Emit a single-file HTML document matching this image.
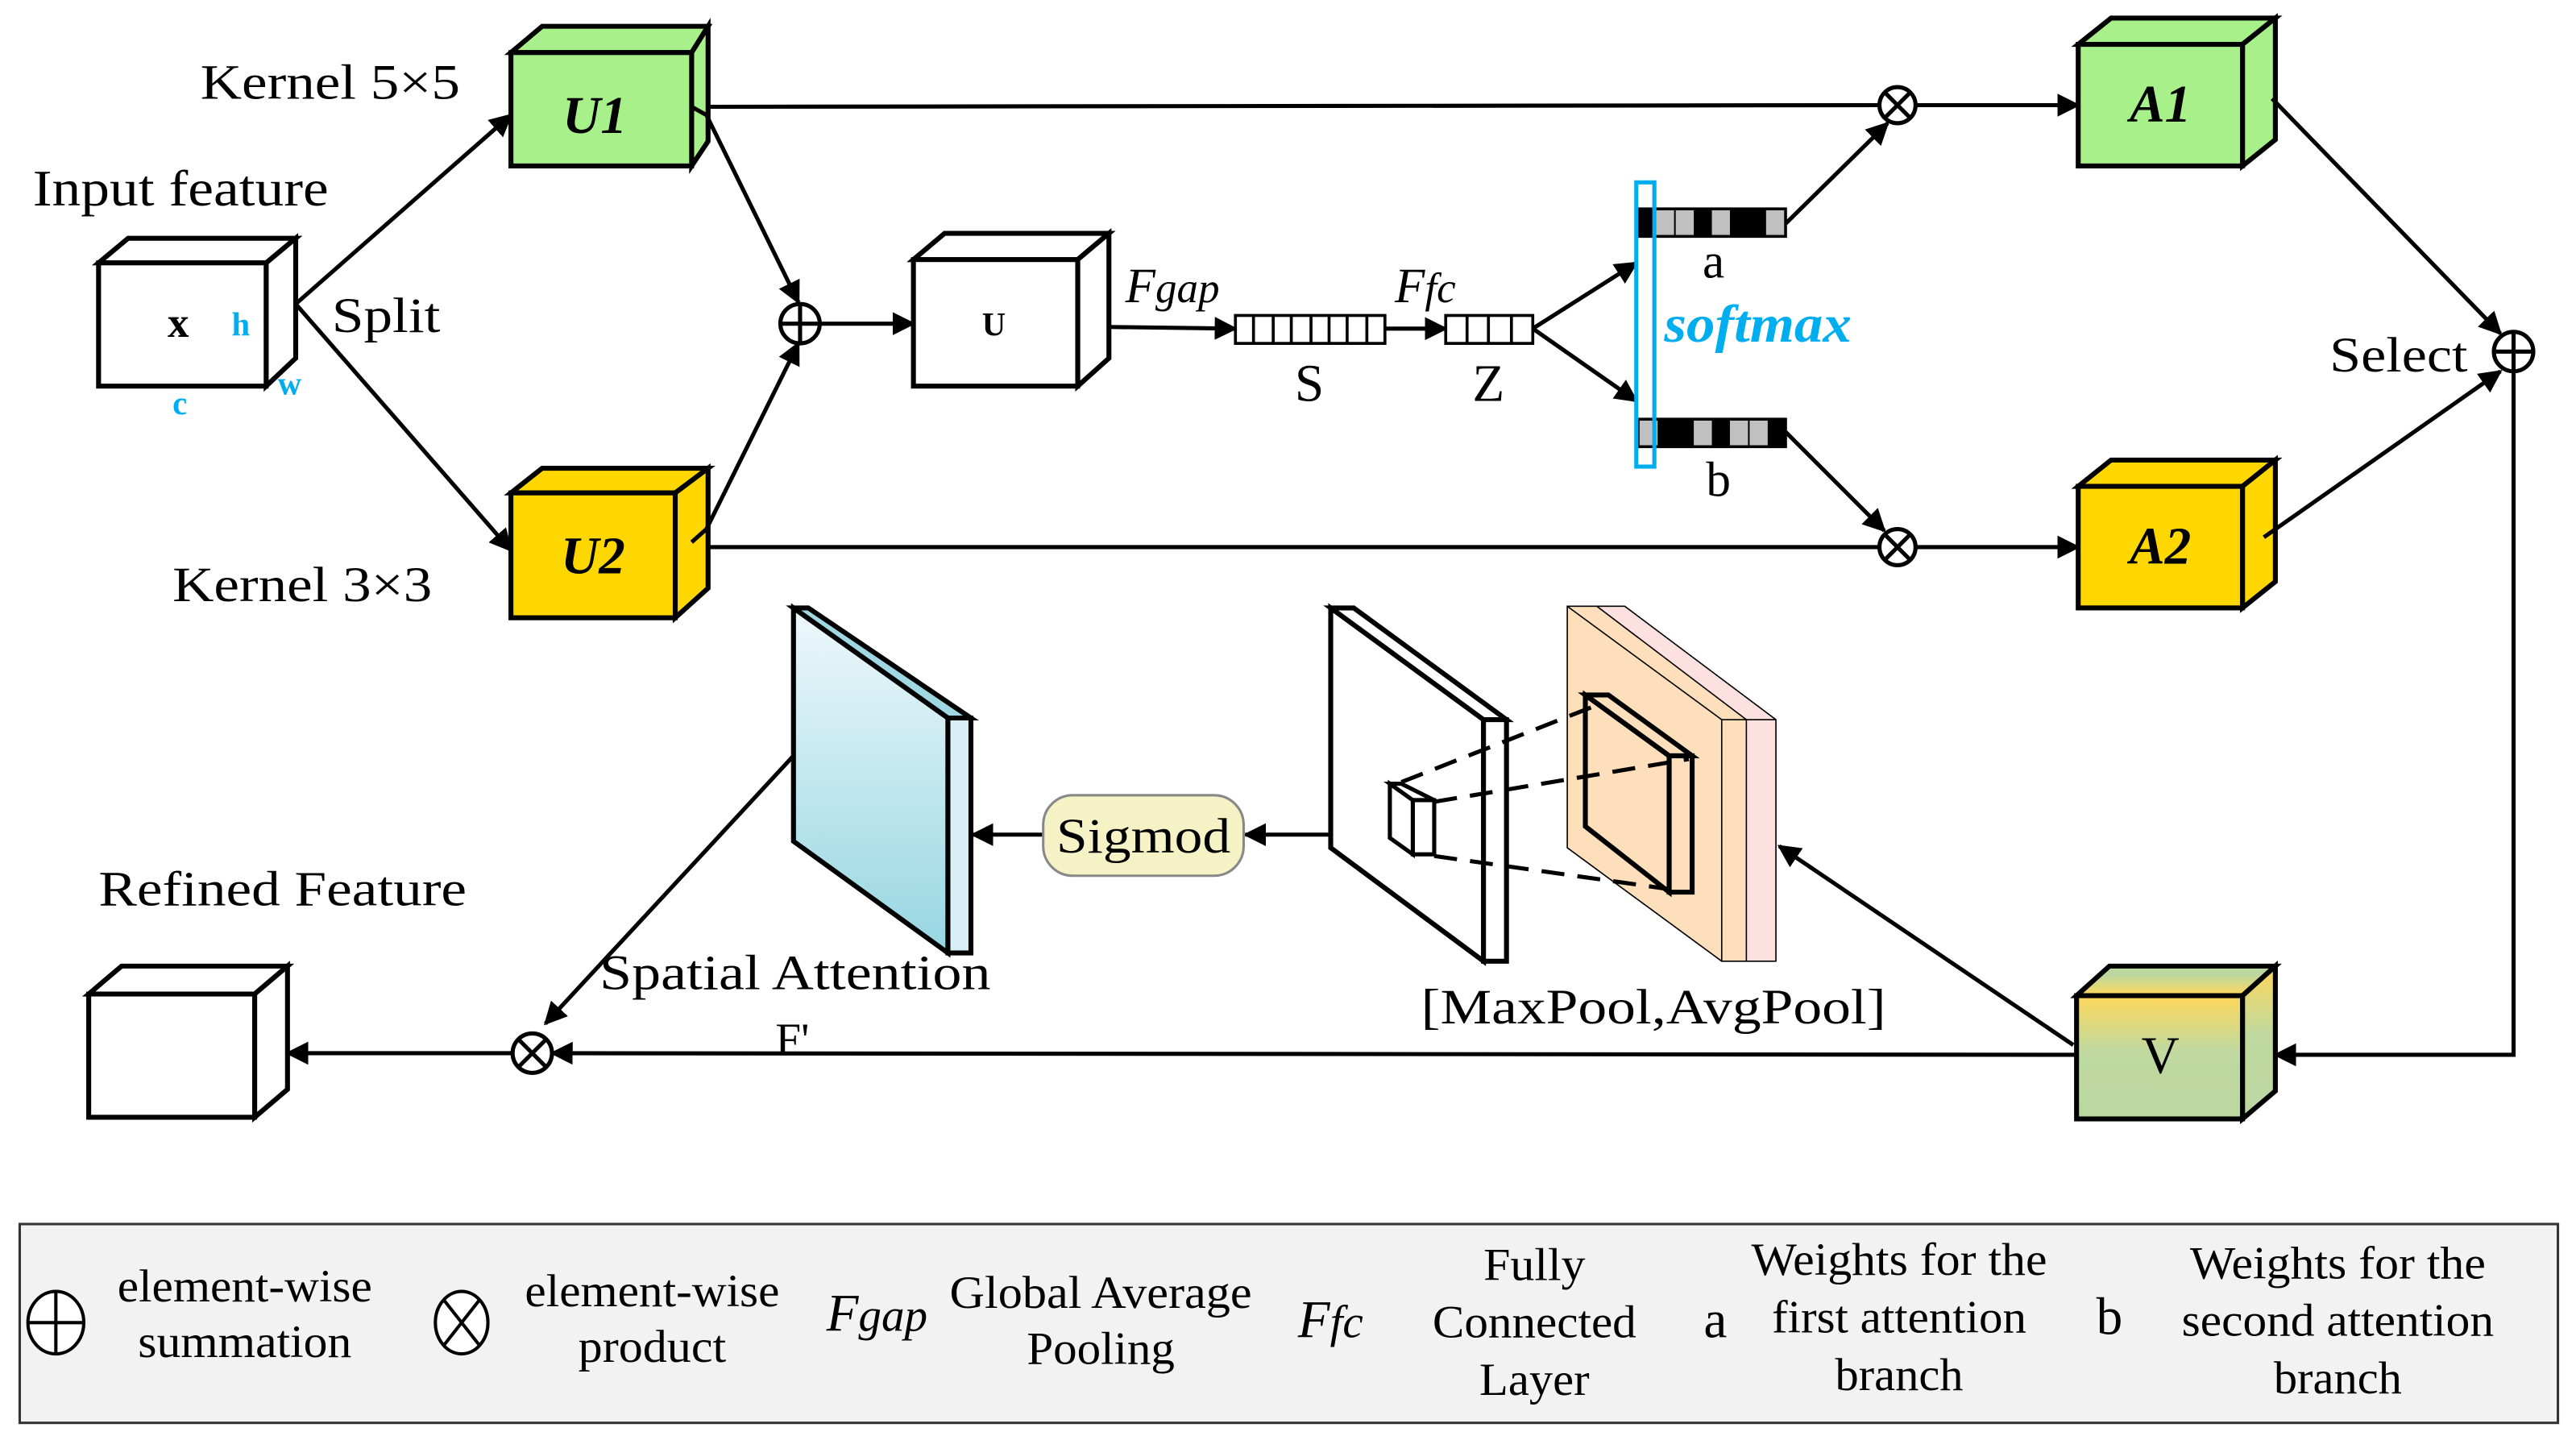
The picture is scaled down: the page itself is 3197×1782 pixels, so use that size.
<!DOCTYPE html>
<html><head><meta charset="utf-8"><style>
html,body{margin:0;padding:0;background:#fff;}
svg{display:block;}
text{font-family:"Liberation Serif","Times New Roman",Times,serif;fill:#000;}
</style></head><body>
<svg width="3197" height="1782" viewBox="0 0 1568 874" preserveAspectRatio="none" xmlns="http://www.w3.org/2000/svg">
<defs>
<marker id="ah2" viewBox="0 0 10 10" refX="9" refY="5" markerWidth="14" markerHeight="14" markerUnits="userSpaceOnUse" orient="auto"><path d="M0,0 L10,5 L0,10 z" fill="#000"/></marker>
<linearGradient id="vg" x1="0" y1="0" x2="0" y2="1"><stop offset="0" stop-color="#ffd85a"/><stop offset="0.45" stop-color="#bfd9a0"/><stop offset="1" stop-color="#bcd8a0"/></linearGradient>
<linearGradient id="vt" x1="0" y1="1" x2="0" y2="0"><stop offset="0" stop-color="#ffd85a"/><stop offset="0.7" stop-color="#bcd8a0"/></linearGradient>
<linearGradient id="bg" x1="0" y1="0" x2="0" y2="1"><stop offset="0" stop-color="#eef8fb"/><stop offset="1" stop-color="#96d6e2"/></linearGradient>
</defs>
<g stroke="#000" stroke-width="3" stroke-linejoin="miter" fill="none">
<path d="M60,160 L78,145 L180,145 L162,160 Z" fill="#fff"/>
<path d="M162,160 L180,145 L180,218 L162,235 Z" fill="#fff"/>
<rect x="60" y="160" width="102" height="75" fill="#fff"/>
<path d="M311,32 L330,16 L431,16 L421,32 Z" fill="#a8f08a"/>
<path d="M421,32 L431,16 L431,86 L421,101 Z" fill="#a8f08a"/>
<rect x="311" y="32" width="110" height="69" fill="#a8f08a"/>
<path d="M311,300 L330,285 L431,285 L411,300 Z" fill="#ffd700"/>
<path d="M411,300 L431,285 L431,358 L411,376 Z" fill="#ffd700"/>
<rect x="311" y="300" width="100" height="76" fill="#ffd700"/>
<path d="M556,158 L575,142 L675,142 L656,158 Z" fill="#fff"/>
<path d="M656,158 L675,142 L675,218 L656,235 Z" fill="#fff"/>
<rect x="556" y="158" width="100" height="77" fill="#fff"/>
<path d="M1265,27 L1285,11 L1385,11 L1365,27 Z" fill="#a8f08a"/>
<path d="M1365,27 L1385,11 L1385,85 L1365,101 Z" fill="#a8f08a"/>
<rect x="1265" y="27" width="100" height="74" fill="#a8f08a"/>
<path d="M1265,296 L1285,280 L1385,280 L1365,296 Z" fill="#ffd700"/>
<path d="M1365,296 L1385,280 L1385,354 L1365,370 Z" fill="#ffd700"/>
<rect x="1265" y="296" width="100" height="74" fill="#ffd700"/>
<path d="M1264,606 L1284,588 L1385,588 L1365,606 Z" fill="url(#vt)"/>
<path d="M1365,606 L1385,588 L1385,664 L1365,681 Z" fill="url(#vg)"/>
<rect x="1264" y="606" width="101" height="75" fill="url(#vg)"/>
<path d="M54,605 L74,588 L175,588 L155,605 Z" fill="#fff"/>
<path d="M155,605 L175,588 L175,663 L155,680 Z" fill="#fff"/>
<rect x="54" y="605" width="101" height="75" fill="#fff"/>
</g>
<g stroke="#000" stroke-width="2.5" fill="none">
<line x1="180" y1="185" x2="311" y2="70" marker-end="url(#ah2)"/>
<line x1="180" y1="185" x2="311" y2="335" marker-end="url(#ah2)"/>
<polyline points="421,65 430,70 486,184" marker-end="url(#ah2)"/>
<polyline points="421,330 430,322 486,209" marker-end="url(#ah2)"/>
<line x1="499" y1="197" x2="556" y2="197" marker-end="url(#ah2)"/>
<line x1="675" y1="199" x2="752" y2="200" marker-end="url(#ah2)"/>
<line x1="843" y1="200" x2="880" y2="200" marker-end="url(#ah2)"/>
<line x1="933" y1="200" x2="996" y2="160" marker-end="url(#ah2)"/>
<line x1="933" y1="200" x2="996" y2="244" marker-end="url(#ah2)"/>
<line x1="1087" y1="136" x2="1149" y2="75" marker-end="url(#ah2)"/>
<line x1="1087" y1="263" x2="1147" y2="323" marker-end="url(#ah2)"/>
<line x1="430" y1="65" x2="1143" y2="64"/>
<line x1="1167" y1="64" x2="1265" y2="64" marker-end="url(#ah2)"/>
<line x1="430" y1="333" x2="1143" y2="333"/>
<line x1="1167" y1="333" x2="1265" y2="333" marker-end="url(#ah2)"/>
<line x1="1383" y1="60" x2="1522" y2="203" marker-end="url(#ah2)"/>
<line x1="1378" y1="327" x2="1522" y2="226" marker-end="url(#ah2)"/>
<polyline points="1530,225 1530,642 1385,642" marker-end="url(#ah2)"/>
<line x1="1264" y1="642" x2="336" y2="641" marker-end="url(#ah2)"/>
<line x1="312" y1="641" x2="175" y2="641" marker-end="url(#ah2)"/>
<line x1="1262" y1="636" x2="1083" y2="515" marker-end="url(#ah2)"/>
<line x1="835" y1="508" x2="758" y2="508" marker-end="url(#ah2)"/>
<line x1="635" y1="508" x2="592" y2="508" marker-end="url(#ah2)"/>
<line x1="483" y1="460" x2="332" y2="623" marker-end="url(#ah2)"/>
</g>
<g stroke="#000" stroke-width="2.5" fill="#fff">
<circle cx="487" cy="197" r="12"/><path d="M475,197 H499 M487,185 V209"/>
<circle cx="1155" cy="64" r="11"/><path d="M1147,56 L1163,72 M1163,56 L1147,72"/>
<circle cx="1155" cy="333" r="11"/><path d="M1147,325 L1163,341 M1163,325 L1147,341"/>
<circle cx="1530" cy="214" r="12"/><path d="M1518,214 H1542 M1530,202 V226"/>
<circle cx="324" cy="641" r="12"/><path d="M316,633 L332,649 M332,633 L316,649"/>
</g>
<g stroke="#000" stroke-width="1.8" fill="#fff">
<rect x="752" y="192" width="91" height="17"/>
<path d="M763,192V209M775,192V209M786,192V209M798,192V209M809,192V209M820,192V209M832,192V209"/>
<rect x="880" y="192" width="53" height="17"/>
<path d="M893,192V209M906,192V209M920,192V209"/>
</g>
<rect x="997" y="127" width="90" height="17" fill="#000" stroke="#000" stroke-width="1.5"/>
<g fill="#c0c0c0"><rect x="1008" y="128" width="11" height="15"/><rect x="1020" y="128" width="11" height="15"/><rect x="1042" y="128" width="11" height="15"/><rect x="1075" y="128" width="11" height="15"/></g>
<rect x="997" y="255" width="90" height="17" fill="#000" stroke="#000" stroke-width="1.5"/>
<g fill="#c0c0c0"><rect x="998" y="256" width="11" height="15"/><rect x="1031" y="256" width="11" height="15"/><rect x="1053" y="256" width="11" height="15"/><rect x="1065" y="256" width="11" height="15"/></g>
<rect x="996" y="111" width="11" height="173" fill="none" stroke="#00aeef" stroke-width="2.5"/>
<g stroke="#000" stroke-width="3">
<path d="M483,370 L577,437 L577,580 L483,512 Z" fill="url(#bg)"/>
<path d="M483,370 L492,370 L591,437 L577,437 Z" fill="#9fd8e3"/>
<path d="M577,437 L591,437 L591,580 L577,580 Z" fill="#d8f0f5"/>
</g>
<g stroke="#000" stroke-width="3" fill="#fff">
<path d="M810,370 L903,438 L903,585 L810,516 Z"/>
<path d="M810,370 L824,370 L917,438 L903,438 Z"/>
<path d="M903,438 L917,438 L917,585 L903,585 Z"/>
</g>
<path d="M968,369 L989,369 L1081,438 L1081,585 L1063,585 Z" fill="#fde0e0" stroke="#000" stroke-width="0.8"/>
<path d="M954,369 L972,369 L1063,438 L1063,585 L1048,585 L954,516 Z" fill="#fde0bb" stroke="#000" stroke-width="0.8"/>
<line x1="1048" y1="438" x2="1048" y2="585" stroke="#000" stroke-width="0.8"/>
<line x1="954" y1="369" x2="1048" y2="438" stroke="#000" stroke-width="0.8"/>
<line x1="1048" y1="438" x2="1081" y2="438" stroke="#000" stroke-width="0.8"/>
<g stroke="#000" stroke-width="3" fill="none">
<path d="M965,423 L1016,460 L1016,543 L965,503 Z"/>
<path d="M965,423 L979,423 L1030,460 L1016,460 Z"/>
<path d="M1016,460 L1030,460 L1030,543 L1016,543 Z"/>
</g>
<g stroke="#000" stroke-width="2.5" fill="#fff">
<path d="M846,477 L860,487 L860,520 L846,510 Z"/>
<path d="M846,477 L853,477 L873,487 L860,487 Z"/>
<path d="M860,487 L873,487 L873,520 L860,520 Z"/>
</g>
<g stroke="#000" stroke-width="2.5" stroke-dasharray="14,8" fill="none">
<line x1="853" y1="476" x2="975" y2="428"/>
<line x1="873" y1="488" x2="1028" y2="462"/>
<line x1="873" y1="521" x2="1015" y2="541"/>
</g>
<rect x="635" y="484" width="122" height="49" rx="18" fill="#f5f3c5" stroke="#888" stroke-width="1.5"/>
<text x="696" y="519" font-size="30" text-anchor="middle" textLength="106" lengthAdjust="spacingAndGlyphs">Sigmod</text>
<text x="122" y="60" font-size="30" textLength="158" lengthAdjust="spacingAndGlyphs">Kernel 5×5</text>
<text x="20" y="125" font-size="31" textLength="180" lengthAdjust="spacingAndGlyphs">Input feature</text>
<text x="202" y="202" font-size="30" textLength="66" lengthAdjust="spacingAndGlyphs">Split</text>
<text x="105" y="366" font-size="30" textLength="158" lengthAdjust="spacingAndGlyphs">Kernel 3×3</text>
<text x="102" y="205" font-size="26" font-weight="bold">x</text>
<text x="141" y="204" font-size="20" font-weight="bold" style="fill:#00aeef">h</text>
<text x="169" y="240" font-size="20" font-weight="bold" style="fill:#00aeef">w</text>
<text x="105" y="252" font-size="20" font-weight="bold" style="fill:#00aeef">c</text>
<text x="362" y="81" font-size="32" font-weight="bold" font-style="italic" text-anchor="middle">U1</text>
<text x="361" y="349" font-size="32" font-weight="bold" font-style="italic" text-anchor="middle">U2</text>
<text x="605" y="204" font-size="20" font-weight="bold" text-anchor="middle">U</text>
<text x="1315" y="74" font-size="32" font-weight="bold" font-style="italic" text-anchor="middle">A1</text>
<text x="1315" y="343" font-size="32" font-weight="bold" font-style="italic" text-anchor="middle">A2</text>
<text x="1315" y="653" font-size="32" text-anchor="middle">V</text>
<text x="685" y="184" font-size="30" font-style="italic">F<tspan font-size="26">gap</tspan></text>
<text x="849" y="184" font-size="30" font-style="italic">F<tspan font-size="26">fc</tspan></text>
<text x="797" y="244" font-size="32" text-anchor="middle">S</text>
<text x="906" y="244" font-size="32" text-anchor="middle">Z</text>
<text x="1043" y="169" font-size="30" text-anchor="middle">a</text>
<text x="1046" y="302" font-size="30" text-anchor="middle">b</text>
<text x="1013" y="208" font-size="32" font-weight="bold" font-style="italic" style="fill:#00aeef" textLength="114" lengthAdjust="spacingAndGlyphs">softmax</text>
<text x="1418" y="226" font-size="30" textLength="84" lengthAdjust="spacingAndGlyphs">Select</text>
<text x="60" y="551" font-size="30" textLength="224" lengthAdjust="spacingAndGlyphs">Refined Feature</text>
<text x="365" y="602" font-size="30" textLength="238" lengthAdjust="spacingAndGlyphs">Spatial Attention</text>
<text x="472" y="642" font-size="28">F'</text>
<text x="865" y="623" font-size="30" textLength="283" lengthAdjust="spacingAndGlyphs">[MaxPool,AvgPool]</text>
<rect x="12" y="745" width="1545" height="121" fill="#f2f2f2" stroke="#333" stroke-width="1.5"/>
<g stroke="#000" stroke-width="2" fill="#fff">
<ellipse cx="34" cy="805" rx="17" ry="19"/><path d="M17,805 H51 M34,786 V824"/>
<ellipse cx="281" cy="805" rx="16" ry="19"/><path d="M270,791 L292,819 M292,791 L270,819"/>
</g>
<g font-size="28" text-anchor="middle" lengthAdjust="spacingAndGlyphs">
<text x="149" y="792" textLength="155" lengthAdjust="spacingAndGlyphs">element-wise</text>
<text x="149" y="826" textLength="130" lengthAdjust="spacingAndGlyphs">summation</text>
<text x="397" y="795" textLength="155" lengthAdjust="spacingAndGlyphs">element-wise</text>
<text x="397" y="829" textLength="90" lengthAdjust="spacingAndGlyphs">product</text>
<text x="670" y="796" textLength="184" lengthAdjust="spacingAndGlyphs">Global Average</text>
<text x="670" y="830" textLength="90" lengthAdjust="spacingAndGlyphs">Pooling</text>
<text x="934" y="779" textLength="62" lengthAdjust="spacingAndGlyphs">Fully</text>
<text x="934" y="814" textLength="124" lengthAdjust="spacingAndGlyphs">Connected</text>
<text x="934" y="849" textLength="67" lengthAdjust="spacingAndGlyphs">Layer</text>
<text x="1156" y="776" textLength="180" lengthAdjust="spacingAndGlyphs">Weights for the</text>
<text x="1156" y="811" textLength="155" lengthAdjust="spacingAndGlyphs">first attention</text>
<text x="1156" y="846" textLength="78" lengthAdjust="spacingAndGlyphs">branch</text>
<text x="1423" y="778" textLength="180" lengthAdjust="spacingAndGlyphs">Weights for the</text>
<text x="1423" y="813" textLength="190" lengthAdjust="spacingAndGlyphs">second attention</text>
<text x="1423" y="848" textLength="78" lengthAdjust="spacingAndGlyphs">branch</text>
</g>
<text x="503" y="810" font-size="32" font-style="italic">F<tspan font-size="28">gap</tspan></text>
<text x="790" y="814" font-size="32" font-style="italic">F<tspan font-size="28">fc</tspan></text>
<text x="1037" y="814" font-size="32">a</text>
<text x="1276" y="812" font-size="32">b</text>
</svg>
</body></html>
